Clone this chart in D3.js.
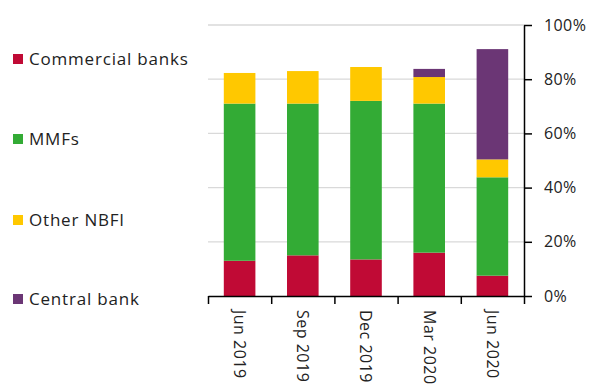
<!DOCTYPE html>
<html>
<head>
<meta charset="utf-8">
<script src="https://cdn.jsdelivr.net/npm/d3@7"></script>
<style>
  body { margin: 0; background: #fff; }
  text { font-family: "Open Sans", sans-serif; fill: #222; }
</style>
</head>
<body>
<div id="chart"></div>
<script>
// data (% of total)
var periods = ["Jun 2019", "Sep 2019", "Dec 2019", "Mar 2020", "Jun 2020"];
var commercialBanks = [13, 15, 13.5, 16, 7.5];
var mmfs = [58, 56, 58.5, 55, 36.3];
var otherNbfi = [11.3, 12, 12.5, 9.8, 6.6];
var centralBank = [0, 0, 0, 3, 40.7];
var seriesNames = ["Commercial banks", "MMFs", "Other NBFI", "Central bank"];
var seriesColors = ["#c00a35", "#33ab35", "#ffc800", "#6b3675"];
var yTicks = [0, 20, 40, 60, 80, 100];

var width = 594, height = 387;
var plotLeft = 208, plotRight = 524, plotTop = 25, plotBottom = 296;

var svg = d3.select("#chart").append("svg")
  .attr("width", width)
  .attr("height", height);

var rows = periods.map(function(p, i) {
  return { period: p, cb: commercialBanks[i], mmf: mmfs[i], other: otherNbfi[i], central: centralBank[i] };
});
var keys = ["cb", "mmf", "other", "central"];
var stacked = d3.stack().keys(keys)(rows);

var x = d3.scaleBand().domain(periods).range([plotLeft, plotRight]).paddingInner(0.5).paddingOuter(0.25);
var y = d3.scaleLinear().domain([0, 100]).range([plotBottom, plotTop]);

// gridlines
svg.append("g").selectAll("line").data(yTicks.filter(function(d){ return d > 0; }))
  .enter().append("line")
  .attr("x1", plotLeft).attr("x2", plotRight)
  .attr("y1", function(d){ return y(d); }).attr("y2", function(d){ return y(d); })
  .attr("stroke", "#d9d9d9").attr("stroke-width", 1.3);

// bars
svg.append("g").selectAll("g").data(stacked).enter().append("g")
  .attr("fill", function(d, i){ return seriesColors[i]; })
  .selectAll("rect").data(function(d){ return d; }).enter().append("rect")
  .attr("x", function(d){ return x(d.data.period); })
  .attr("width", x.bandwidth())
  .attr("y", function(d){ return y(d[1]); })
  .attr("height", function(d){ return y(d[0]) - y(d[1]); });

// right axis
var yAxis = svg.append("g")
  .attr("transform", "translate(" + plotRight + ",0)")
  .call(d3.axisRight(y).tickValues(yTicks).tickSize(8).tickSizeOuter(0).tickPadding(12)
    .tickFormat(function(d){ return d + "%"; }));
yAxis.select(".domain").attr("stroke", "#000").attr("stroke-width", 1.5);
yAxis.selectAll(".tick line").attr("stroke", "#000").attr("stroke-width", 1.5);
yAxis.selectAll("text").style("font-size", "16px").style("letter-spacing", "0.4px")
  .attr("fill", "#333").style("font-family", "Open Sans, sans-serif");

// bottom axis with ticks at band boundaries
var edges = d3.scaleLinear().domain([0, periods.length]).range([plotLeft, plotRight]);
var xAxis = svg.append("g")
  .attr("transform", "translate(0," + plotBottom + ")")
  .call(d3.axisBottom(edges).tickValues(d3.range(periods.length + 1)).tickSize(8).tickSizeOuter(0)
    .tickFormat(""));
xAxis.select(".domain").attr("stroke", "#000").attr("stroke-width", 1.5);
xAxis.selectAll(".tick line").attr("stroke", "#000").attr("stroke-width", 1.5);

// category labels, rotated
svg.append("g").selectAll("text").data(periods).enter().append("text")
  .attr("transform", function(d){
    return "translate(" + (x(d) + x.bandwidth() / 2) + "," + (plotBottom + 14) + ") rotate(90)";
  })
  .attr("dy", "0.35em")
  .style("font-size", "16px")
  .style("letter-spacing", "0.5px")
  .attr("fill", "#333")
  .text(function(d){ return d; });

// legend
var legendY = [59, 139, 220, 299];
var legend = svg.append("g").selectAll("g").data(seriesNames).enter().append("g")
  .attr("transform", function(d, i){ return "translate(13," + legendY[i] + ")"; });
legend.append("rect")
  .attr("x", 0).attr("y", -5).attr("width", 10).attr("height", 10)
  .attr("fill", function(d, i){ return seriesColors[i]; });
legend.append("text")
  .attr("x", 16).attr("dy", "0.35em")
  .style("font-size", "17px")
  .style("letter-spacing", "0.8px")
  .attr("fill", "#333")
  .text(function(d){ return d; });
</script>
</body>
</html>
